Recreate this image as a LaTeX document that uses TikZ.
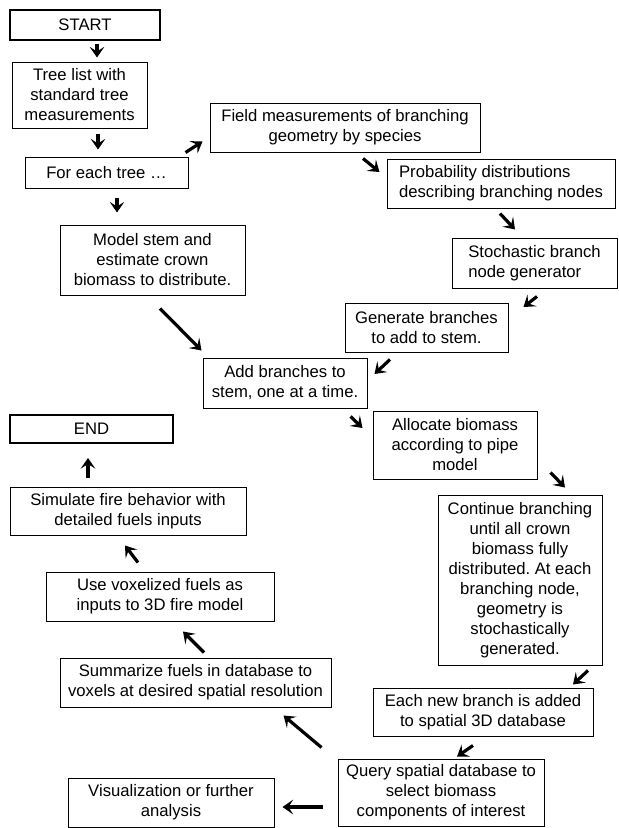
\documentclass[tikz,border=0pt]{standalone}
\usepackage{fontspec}
\setmainfont{Liberation Sans}
\usetikzlibrary{arrows.meta}
\begin{document}
\begin{tikzpicture}[x=0.75pt, y=-0.75pt,
            font=\fontsize{12.5}{15}\selectfont\frenchspacing,
            every node/.style = {draw, inner sep=0pt, align=center, line width=0.75pt},
            boxsize/.style 2 args = {minimum width=#1*0.75pt, minimum height=#2*0.75pt},
            endbox/.style = {line width=1.5pt},
            arr/.style = {line width=2.4pt, -{Stealth[length=8pt, width=11pt, inset=3.5pt]}}]
        \useasboundingbox (0,0) rectangle (618,828);
        \node (start) [boxsize={150}{30}, endbox] at (85,25) {START};
        \node (tree) [boxsize={135}{66}] at (79.5,95) {Tree list with\\standard tree\\measurements};
        \node (each) [boxsize={163}{31}] at (106.5,172.5) {For each tree \dots};
        \node (model) [boxsize={185}{70}] at (152.5,260) {Model stem and\\estimate crown\\biomass to distribute.};
        \node (field) [boxsize={270}{49}] at (345,127.5) {Field measurements of branching\\geometry by species};
        \node (prob) [boxsize={228}{49}, align=left] at (501,183.5) {Probability distributions\\describing branching nodes};
        \node (stoch) [boxsize={165}{50}, align=left] at (534.5,263) {Stochastic branch\\node generator};
        \node (gen) [boxsize={163}{49}] at (426.5,327.5) {Generate branches\\to add to stem.};
        \node (add) [boxsize={164}{50}] at (285,383) {Add branches to\\stem, one at a time.};
        \node (alloc) [boxsize={164}{68}] at (455,445) {Allocate biomass\\according to pipe\\model};
        \node (cont) [boxsize={164}{170}] at (520,580) {Continue branching\\until all crown\\biomass fully\\distributed. At each\\branching node,\\geometry is\\stochastically\\generated.};
        \node (added) [boxsize={220}{48}] at (483,712) {Each new branch is added\\to spatial 3D database};
        \node (query) [boxsize={206}{67}] at (441,792.5) {Query spatial database to\\select biomass\\components of interest};
        \node (vis) [boxsize={206}{49}] at (171,802.5) {Visualization or further\\analysis};
        \node (summ) [boxsize={271}{49}] at (195.5,682.5) {Summarize fuels in database to\\voxels at desired spatial resolution};
        \node (use) [boxsize={228}{49}] at (160,596.5) {Use voxelized fuels as\\inputs to 3D fire model};
        \node (sim) [boxsize={236}{48}] at (128,511) {Simulate fire behavior with\\detailed fuels inputs};
        \node (stop) [boxsize={163}{28}, endbox] at (91.5,429) {END};

        \draw[arr] ([shift={(12,3)}]start.south) -- ([shift={(17.5,-4)}]tree.north);
        \draw[arr] ([shift={(18.5,5)}]tree.south) -- ([shift={(-8.5,-7)}]each.north);
        \draw[arr] ([shift={(10.5,9)}]each.south) -- ([shift={(-35.5,-12)}]model.north);
        \draw[arr] ([shift={(-3,-4)}]each.north east) -- ([shift={(-7,-11)}]field.south west);
        \draw[arr] ([shift={(18,6)}]field.south) -- ([shift={(-7,-11.5)}]prob.west);
        \draw[arr] ([shift={(-1,5)}]prob.south) -- ([shift={(-19.5,-8)}]stoch.north);
        \draw[arr] ([shift={(2.5,8)}]stoch.south) -- ([shift={(15,-20.5)}]gen.east);
        \draw[arr] ([shift={(-36.5,7)}]gen.south) -- ([shift={(7,-9)}]add.east);
        \draw[arr] ([shift={(7.5,13)}]model.south) -- ([shift={(-1,-7)}]add.north west);
        \draw[arr] ([shift={(-17,8)}]add.south east) -- ([shift={(-10,-17)}]alloc.west);
        \draw[arr] ([shift={(13,-7)}]alloc.south east) -- ([shift={(45,-7)}]cont.north);
        \draw[arr] ([shift={(68,5)}]cont.south) -- ([shift={(90,-3)}]added.north);
        \draw[arr] ([shift={(-10,9)}]added.south) -- ([shift={(16,-2)}]query.north);
        \draw[arr] ([shift={(-15,14.5)}]query.west) -- ([shift={(8,4.5)}]vis.east);
        \draw[arr] ([shift={(-16,-11)}]query.north west) -- ([shift={(-48,8)}]summ.south east);
        \draw[arr] ([shift={(8.5,-5)}]summ.north) -- ([shift={(23,10)}]use.south);
        \draw[arr] ([shift={(-22,-9)}]use.north) -- ([shift={(-3,10)}]sim.south);
        \draw[arr] ([shift={(-40,-9)}]sim.north) -- ([shift={(-3.5,14)}]stop.south);
\end{tikzpicture}
\end{document}
